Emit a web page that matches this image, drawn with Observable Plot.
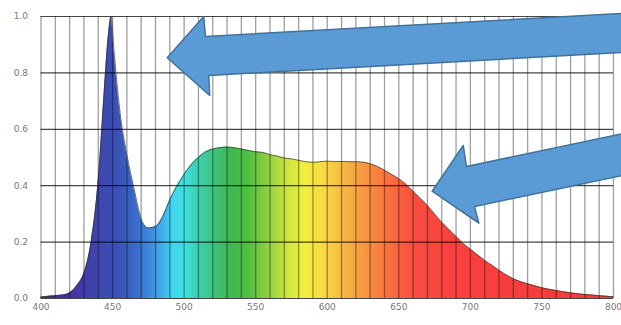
<!DOCTYPE html>
<html><head><meta charset="utf-8">
<script src="https://cdn.jsdelivr.net/npm/d3@7"></script>
<script src="https://cdn.jsdelivr.net/npm/@observablehq/plot@0.6"></script>
<style>
html,body{margin:0;padding:0;background:#fff;overflow:hidden;}
#chart svg{overflow:hidden;}
</style>
</head><body><div id="chart"></div>
<script>
// Spectrum (wavelength in nm, relative intensity)
const wavelengths = [400,405,410,415,420,425,430,435,440,444,447,449,451,455,460,465,468,471,475,480,485,490,495,500,505,510,515,520,525,530,535,540,545,550,555,560,565,570,575,580,585,590,595,600,605,610,615,620,625,630,635,640,645,650,655,660,665,670,675,680,685,690,695,700,705,710,715,720,730,740,750,760,770,780,790,800];
const intensities = [0.005,0.008,0.01,0.012,0.02,0.045,0.09,0.2,0.42,0.72,0.93,1.0,0.88,0.67,0.51,0.39,0.32,0.27,0.25,0.255,0.29,0.35,0.4,0.44,0.475,0.5,0.52,0.53,0.535,0.537,0.535,0.53,0.525,0.52,0.518,0.51,0.505,0.498,0.495,0.49,0.485,0.483,0.485,0.487,0.486,0.486,0.485,0.485,0.483,0.478,0.468,0.455,0.44,0.425,0.405,0.38,0.355,0.33,0.3,0.27,0.245,0.22,0.195,0.175,0.155,0.135,0.118,0.1,0.07,0.052,0.038,0.028,0.02,0.014,0.01,0.006];

// Axis ticks
const xTicks = [400,450,500,550,600,650,700,750,800];
const yTicks = [0,0.2,0.4,0.6,0.8,1.0];
const xGrid = d3.range(400, 801, 10);

// Annotation arrows (outline vertices, in data units: nm, intensity)
const arrowIds = ["a","a","a","a","a","a","a","b","b","b","b","b","b","b"];
const arrowNm  = [488.2,513.7,514.9,818.9,818.9,517.2,517.9, 673.3,695.0,697.3,818.9,818.9,702.9,705.9];
const arrowVal = [0.8535,1.0,0.929,1.0145,0.876,0.791,0.720, 0.3805,0.5426,0.468,0.598,0.450,0.326,0.267];

// Spectral colour stops for the fill
const stopNm    = [400,425,440,455,470,482,492,500,510,520,532,545,555,565,575,585,598,610,622,635,648,662,690,800];
const stopColor = ["#3a2a8e","#4636a6","#3e46ac","#3a52b6","#3a74d0","#3fa0e6","#3fd4f0","#3ee0e0","#3ed0b0","#3ec484","#3db852","#4fc042","#7ccb40","#aed840","#d6e840","#f2ef42","#f8d842","#f8bc42","#f8a042","#f88240","#f86640","#f84c40","#f8403e","#f23a3a"];

const spectrum = wavelengths.map((nm, i) => ({nm, v: intensities[i]}));
const arrows = arrowIds.map((id, i) => ({id, nm: arrowNm[i], v: arrowVal[i]}));

const gradientDefs = (index, scales) => {
  const defs = d3.create("svg:defs");
  const g = defs.append("linearGradient")
    .attr("id", "spec")
    .attr("gradientUnits", "userSpaceOnUse")
    .attr("x1", scales.x(400)).attr("x2", scales.x(800))
    .attr("y1", 0).attr("y2", 0);
  stopNm.forEach((nm, i) => {
    g.append("stop").attr("offset", (nm - 400) / 400).attr("stop-color", stopColor[i]);
  });
  return defs.node();
};

const chart = Plot.plot({
  width: 621,
  height: 325,
  marginLeft: 40.5,
  marginRight: 8,
  marginTop: 16,
  marginBottom: 27,
  style: {fontFamily: "DejaVu Sans, sans-serif", fontSize: "9px", color: "#777", background: "#fff"},
  x: {domain: [400, 800], ticks: xTicks, tickSize: 0, tickPadding: 5, label: null},
  y: {domain: [0, 1], ticks: yTicks, tickFormat: ".1f", tickSize: 0, tickPadding: 13, label: null},
  marks: [
    gradientDefs,
    Plot.areaY(spectrum, {x: "nm", y: "v", fill: "url(#spec)", curve: "monotone-x"}),
    Plot.ruleX(xGrid, {stroke: "#000", strokeOpacity: 0.38, strokeWidth: 1.3}),
    Plot.ruleY(yTicks, {stroke: "#000", strokeOpacity: 0.72, strokeWidth: 1.2}),
    Plot.lineY(spectrum, {x: "nm", y: "v", stroke: "#333", strokeOpacity: 0.7, strokeWidth: 1, curve: "monotone-x"}),
    Plot.line(arrows, {x: "nm", y: "v", z: "id", fill: "#5b9bd5", stroke: "#41719c", strokeWidth: 1.5, curve: "linear-closed"})
  ]
});
document.getElementById("chart").append(chart);
</script>
</body></html>
